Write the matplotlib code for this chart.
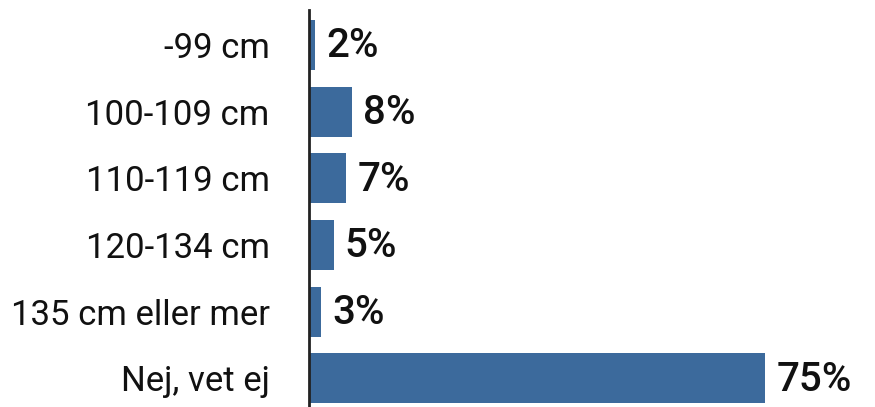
import matplotlib
matplotlib.use("Agg")
import matplotlib.pyplot as plt

categories = ["-99 cm", "100-109 cm", "110-119 cm", "120-134 cm", "135 cm eller mer", "Nej, vet ej"]
values = [2, 8, 7, 5, 3, 75]
value_labels = ["2%", "8%", "7%", "5%", "3%", "75%"]

family = "Roboto"

W, H = 875, 407
fig = plt.figure(figsize=(W / 100, H / 100), dpi=100)
ax = fig.add_axes([308.5 / W, 0, 1 - 308.5 / W, (H - 10) / H])

ypos = list(range(len(categories)))
ax.barh(ypos, values, height=0.75, color="#3C6A9C")
ax.set_xlim(0.9, 92.8)
ax.set_ylim(5.43, -0.525)

for y, v, lab in zip(ypos, values, value_labels):
    ax.text(v + 1.8, y + 0.02, lab, va="center", ha="left", fontsize=29,
            fontfamily=family, fontweight="medium", color="#111111")

ax.set_yticks(ypos)
ax.set_yticklabels(categories, fontsize=25, fontfamily=family, color="#111111")
ax.tick_params(axis="y", length=0, pad=28)
ax.set_xticks([])
for s in ["top", "right", "bottom"]:
    ax.spines[s].set_visible(False)
ax.spines["left"].set_linewidth(2)
ax.spines["left"].set_color("#222222")

fig.savefig("out.png", dpi=100)
